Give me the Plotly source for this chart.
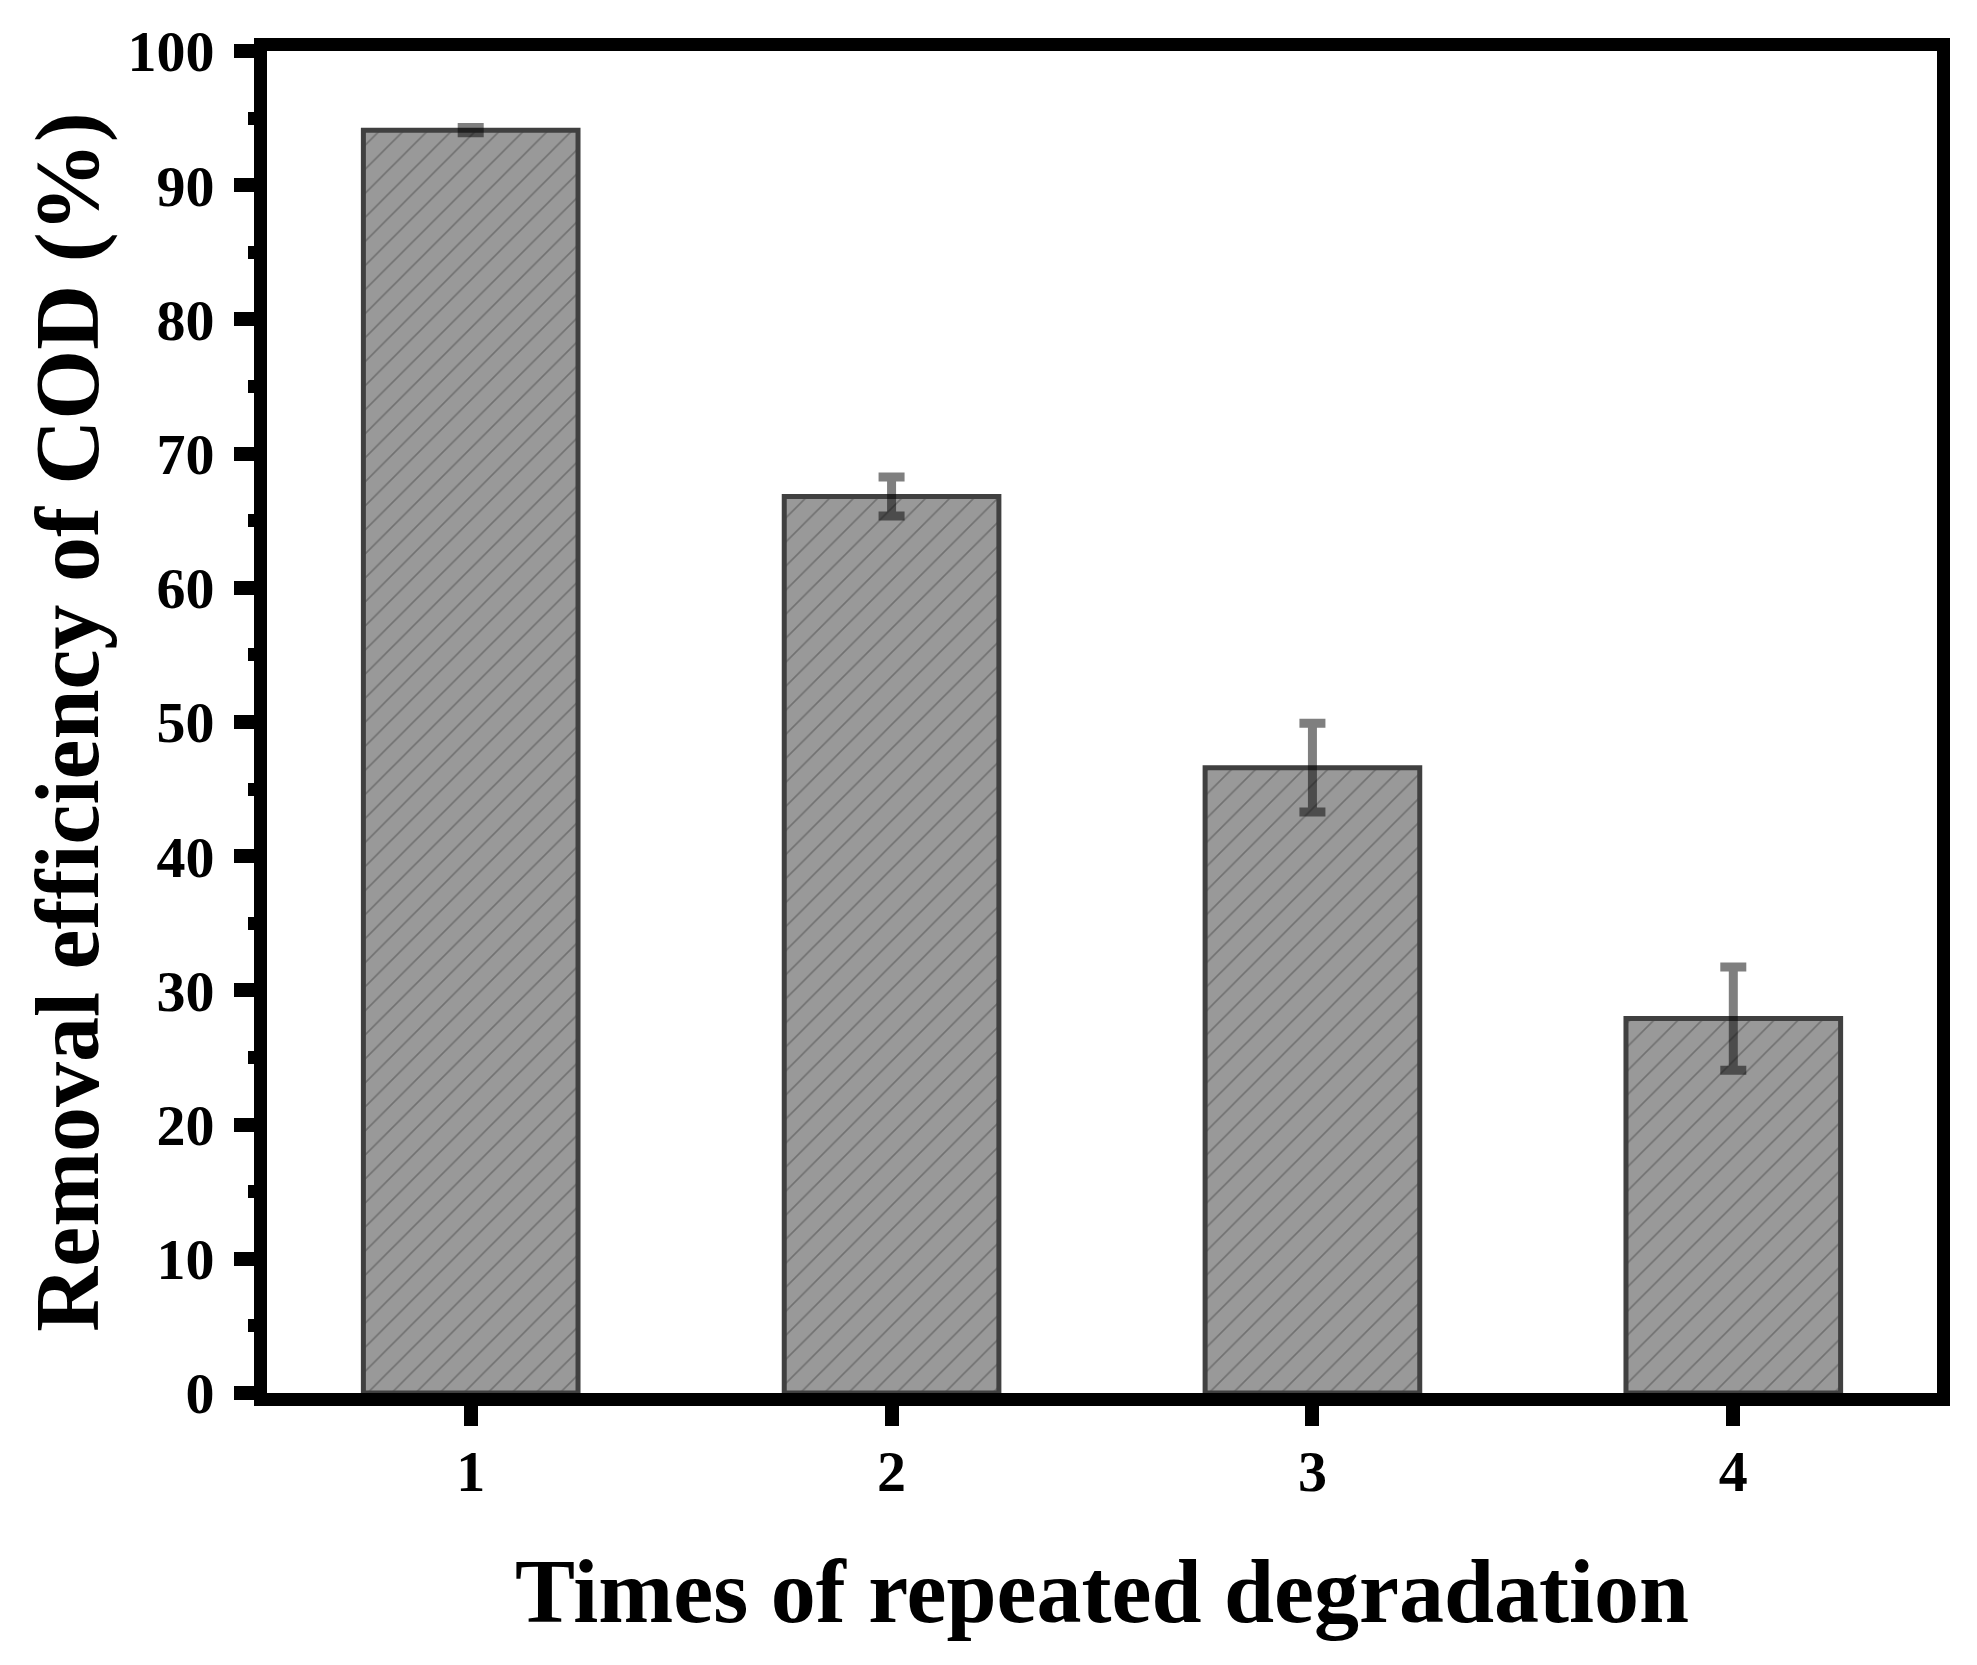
import plotly.graph_objects as go

categories = [1, 2, 3, 4]
removal = [94.1, 66.8, 46.6, 27.9]
errors = [0.2, 1.45, 3.3, 3.85]
y_ticks = [0, 10, 20, 30, 40, 50, 60, 70, 80, 90, 100]

FONT = "Liberation Serif"

fig = go.Figure()
fig.add_trace(go.Bar(
    x=categories,
    y=removal,
    width=0.51,
    marker=dict(
        color="#999999",
        pattern=dict(shape="/", fgcolor="#4a4a4a", size=17, solidity=0.1),
        line=dict(color="#404040", width=5),
    ),
    error_y=dict(type="data", array=errors, color="rgba(0,0,0,0.5)",
                 thickness=9, width=13),
    showlegend=False,
))

fig.update_layout(
    width=1977, height=1665,
    margin=dict(l=267, r=40, t=51, b=271.5, pad=0),
    plot_bgcolor="white", paper_bgcolor="white",
    font=dict(family=FONT, size=58, color="black"),
)
fig.update_xaxes(
    range=[0.516, 4.484],
    tickmode="array", tickvals=categories, ticktext=[str(c) for c in categories],
    showline=True, linecolor="black", linewidth=13, mirror=True,
    ticks="outside", ticklen=20, tickwidth=14, tickcolor="black",
    showgrid=False, zeroline=False, ticklabelstandoff=-5,
    tickfont=dict(family=FONT, size=58, color="black", weight="bold"),
    title=dict(text="<b>Times of repeated degradation</b>",
               font=dict(family=FONT, size=90, color="black"), standoff=62),
)
fig.update_yaxes(
    range=[0, 100],
    tickmode="array", tickvals=y_ticks, ticktext=[str(t) for t in y_ticks],
    showline=True, linecolor="black", linewidth=13, mirror=True,
    ticks="outside", ticklen=20, tickwidth=14, tickcolor="black",
    minor=dict(dtick=5, ticks="outside", ticklen=6, tickwidth=13, tickcolor="black"),
    showgrid=False, zeroline=False, ticklabelstandoff=8,
    tickfont=dict(family=FONT, size=58, color="black", weight="bold"),
    title=dict(text="<b>Removal efficiency of COD (%)</b>",
               font=dict(family=FONT, size=90, color="black"), standoff=4),
)

fig.write_html("out.html", config={"displayModeBar": False},
               post_script="document.body.style.margin='0px';")
